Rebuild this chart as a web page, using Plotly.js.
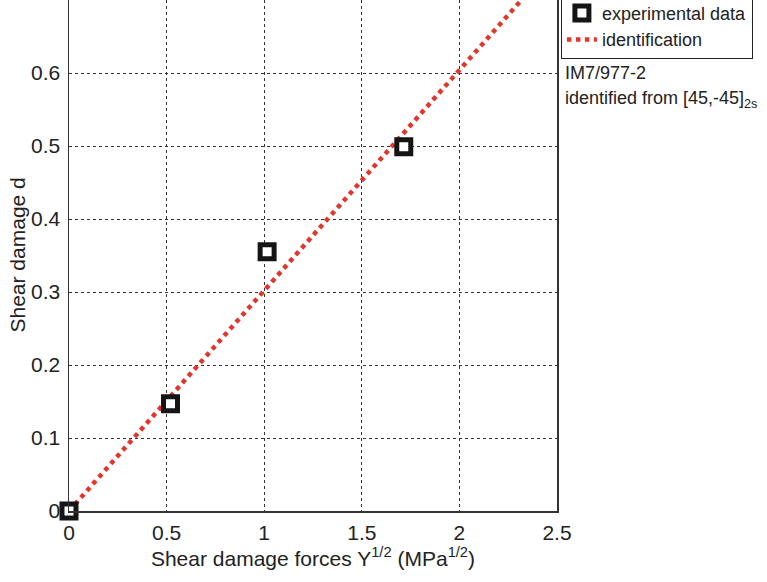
<!DOCTYPE html>
<html>
<head>
<meta charset="utf-8">
<script src="https://cdn.plot.ly/plotly-3.0.1.min.js"></script>
<style>html,body{margin:0;padding:0;background:#fff;}#chart{width:767px;height:582px;}</style>
</head>
<body>
<div id="chart"></div>
<script>
const expX = [0, 0.52, 1.015, 1.715];
const expY = [0, 0.147, 0.355, 0.499];
const fitX = [0, 2.5];
const fitY = [0, 0.755];
const xTicks = [0, 0.5, 1, 1.5, 2, 2.5];
const yTicks = [0, 0.1, 0.2, 0.3, 0.4, 0.5, 0.6];
const fontFam = 'Liberation Sans, Arial, sans-serif';

const traces = [
  {x: fitX, y: fitY, mode: 'lines', name: 'identification',
   line: {color: '#e0362c', width: 4.5, dash: 'dot'}},
  {x: expX, y: expY, mode: 'markers', name: 'experimental data', cliponaxis: false,
   marker: {symbol: 'square', size: 14, color: '#ffffff', line: {color: '#151515', width: 5}}}
];

const layout = {
  width: 767, height: 582,
  margin: {l: 69, r: 210, t: 0, b: 71, autoexpand: false},
  paper_bgcolor: '#fff', plot_bgcolor: '#fff',
  font: {family: fontFam, color: '#222', size: 21},
  showlegend: true,
  legend: {x: 1.008, y: 1.012, xanchor: 'left', yanchor: 'top', traceorder: 'reversed',
    bordercolor: '#222', borderwidth: 1, bgcolor: '#fff', font: {size: 18, color: '#222'},
    itemwidth: 30, tracegroupgap: 0},
  xaxis: {range: [0, 2.5], tickvals: xTicks, ticktext: xTicks.map(String), automargin: false,
    showgrid: true, gridcolor: '#333', griddash: 'dot', gridwidth: 1,
    showline: true, mirror: true, linecolor: '#333', linewidth: 1.5,
    zeroline: false, ticks: '', tickfont: {size: 21}, ticklabelstandoff: 2,
    title: {text: 'Shear damage forces Y<sup>1/2</sup> (MPa<sup>1/2</sup>)', font: {size: 21}, standoff: 8}},
  yaxis: {range: [0, 0.7], tickvals: yTicks, ticktext: yTicks.map(String), automargin: false,
    showgrid: true, gridcolor: '#333', griddash: 'dot', gridwidth: 1,
    showline: true, mirror: true, linecolor: '#333', linewidth: 1.5,
    zeroline: false, ticks: '', tickfont: {size: 21}, ticklabelstandoff: 3},
  annotations: [
    {xref: 'paper', yref: 'paper', x: 0, y: 0.5, xanchor: 'center', yanchor: 'middle',
     xshift: -52, textangle: -90, text: 'Shear damage d', showarrow: false, font: {size: 21, color: '#222'}},
    {xref: 'paper', yref: 'paper', x: 1.0, y: 0.857, xanchor: 'left', yanchor: 'middle',
     xshift: 6, text: 'IM7/977-2', showarrow: false, font: {size: 18, color: '#222'}},
    {xref: 'paper', yref: 'paper', x: 1.0, y: 0.806, xanchor: 'left', yanchor: 'middle',
     xshift: 6, text: 'identified from [45,-45]<sub>2s</sub>', showarrow: false, font: {size: 18, color: '#222'}}
  ]
};

Plotly.newPlot('chart', traces, layout, {displayModeBar: false, staticPlot: true});
</script>
</body>
</html>
